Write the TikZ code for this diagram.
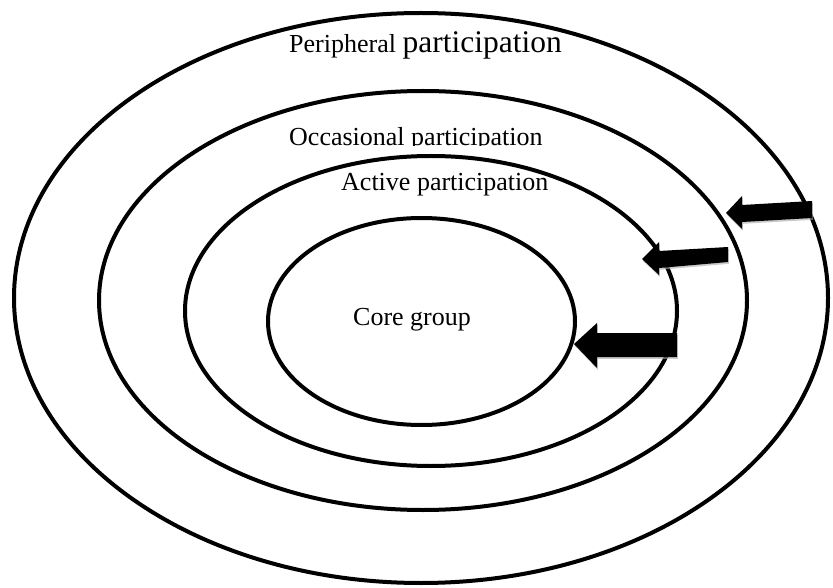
\documentclass[tikz,border=0pt]{standalone}
\usepackage{fontspec}
\setmainfont{Liberation Serif}
\usetikzlibrary{shapes.geometric}
\tikzset{
  ring/.style={draw=black, line width=4pt, shape=ellipse, inner sep=0pt, outer sep=0pt},
  lbl/.style={anchor=base west, inner sep=0pt, font=\fontsize{26}{30}\selectfont},
  blockarrow/.style={fill=black},
  arrowshadow/.style={fill=black!35, opacity=0.6},
}
\begin{document}
\begin{tikzpicture}[x=1pt, y=-1pt]
\useasboundingbox (0,0) rectangle (833,588);
% rings
\node[ring, minimum width=814pt, minimum height=570pt] (outer) at (421,298) {};
\node[ring, minimum width=648pt, minimum height=419pt] (occ) at (423,300.5) {};
\node[ring, minimum width=492pt, minimum height=310pt] (act) at (431,311) {};
\node[ring, minimum width=307pt, minimum height=207pt] (core) at (421.5,321.5) {};
% labels
\node[lbl] (tperi) at (289,53) {Peripheral {\fontsize{31.5}{34}\selectfont participation}};
\begin{scope}
\clip (250,100) rectangle (600,145.5);
\node[lbl] (tocc) at (289,146) {Occasional participation};
\end{scope}
\node[lbl] (tact) at (341,191) {Active participation};
\node[lbl] (tcore) at (353,325) {Core group};
% arrow shadows
\begin{scope}[shift={(0.8,1.8)}]
\fill[arrowshadow] (812,201) -- (742,205) -- (742,196) -- (726,213) -- (742,229) -- (742,222) -- (812,218) -- cycle;
\fill[arrowshadow] (728,247) -- (659,251) -- (659,242) -- (642,259) -- (659,275) -- (659,268) -- (728,262) -- cycle;
\fill[arrowshadow] (677,333) -- (597,333) -- (597,323) -- (574,344) -- (597,368) -- (597,357) -- (677,357) -- cycle;
\end{scope}
% arrows
\coordinate (a1tail) at (812,209.5);
\coordinate (a1tip) at (726,213);
\coordinate (a2tail) at (728,254.5);
\coordinate (a2tip) at (642,259);
\coordinate (a3tail) at (677,345);
\coordinate (a3tip) at (574,344);
\fill[blockarrow] (812,201) -- (742,205) -- (742,196) -- (a1tip) -- (742,229) -- (742,222) -- (812,218) -- cycle;
\fill[blockarrow] (728,247) -- (659,251) -- (659,242) -- (a2tip) -- (659,275) -- (659,268) -- (728,262) -- cycle;
\fill[blockarrow] (677,333) -- (597,333) -- (597,323) -- (a3tip) -- (597,368) -- (597,357) -- (677,357) -- cycle;
\end{tikzpicture}
\end{document}
